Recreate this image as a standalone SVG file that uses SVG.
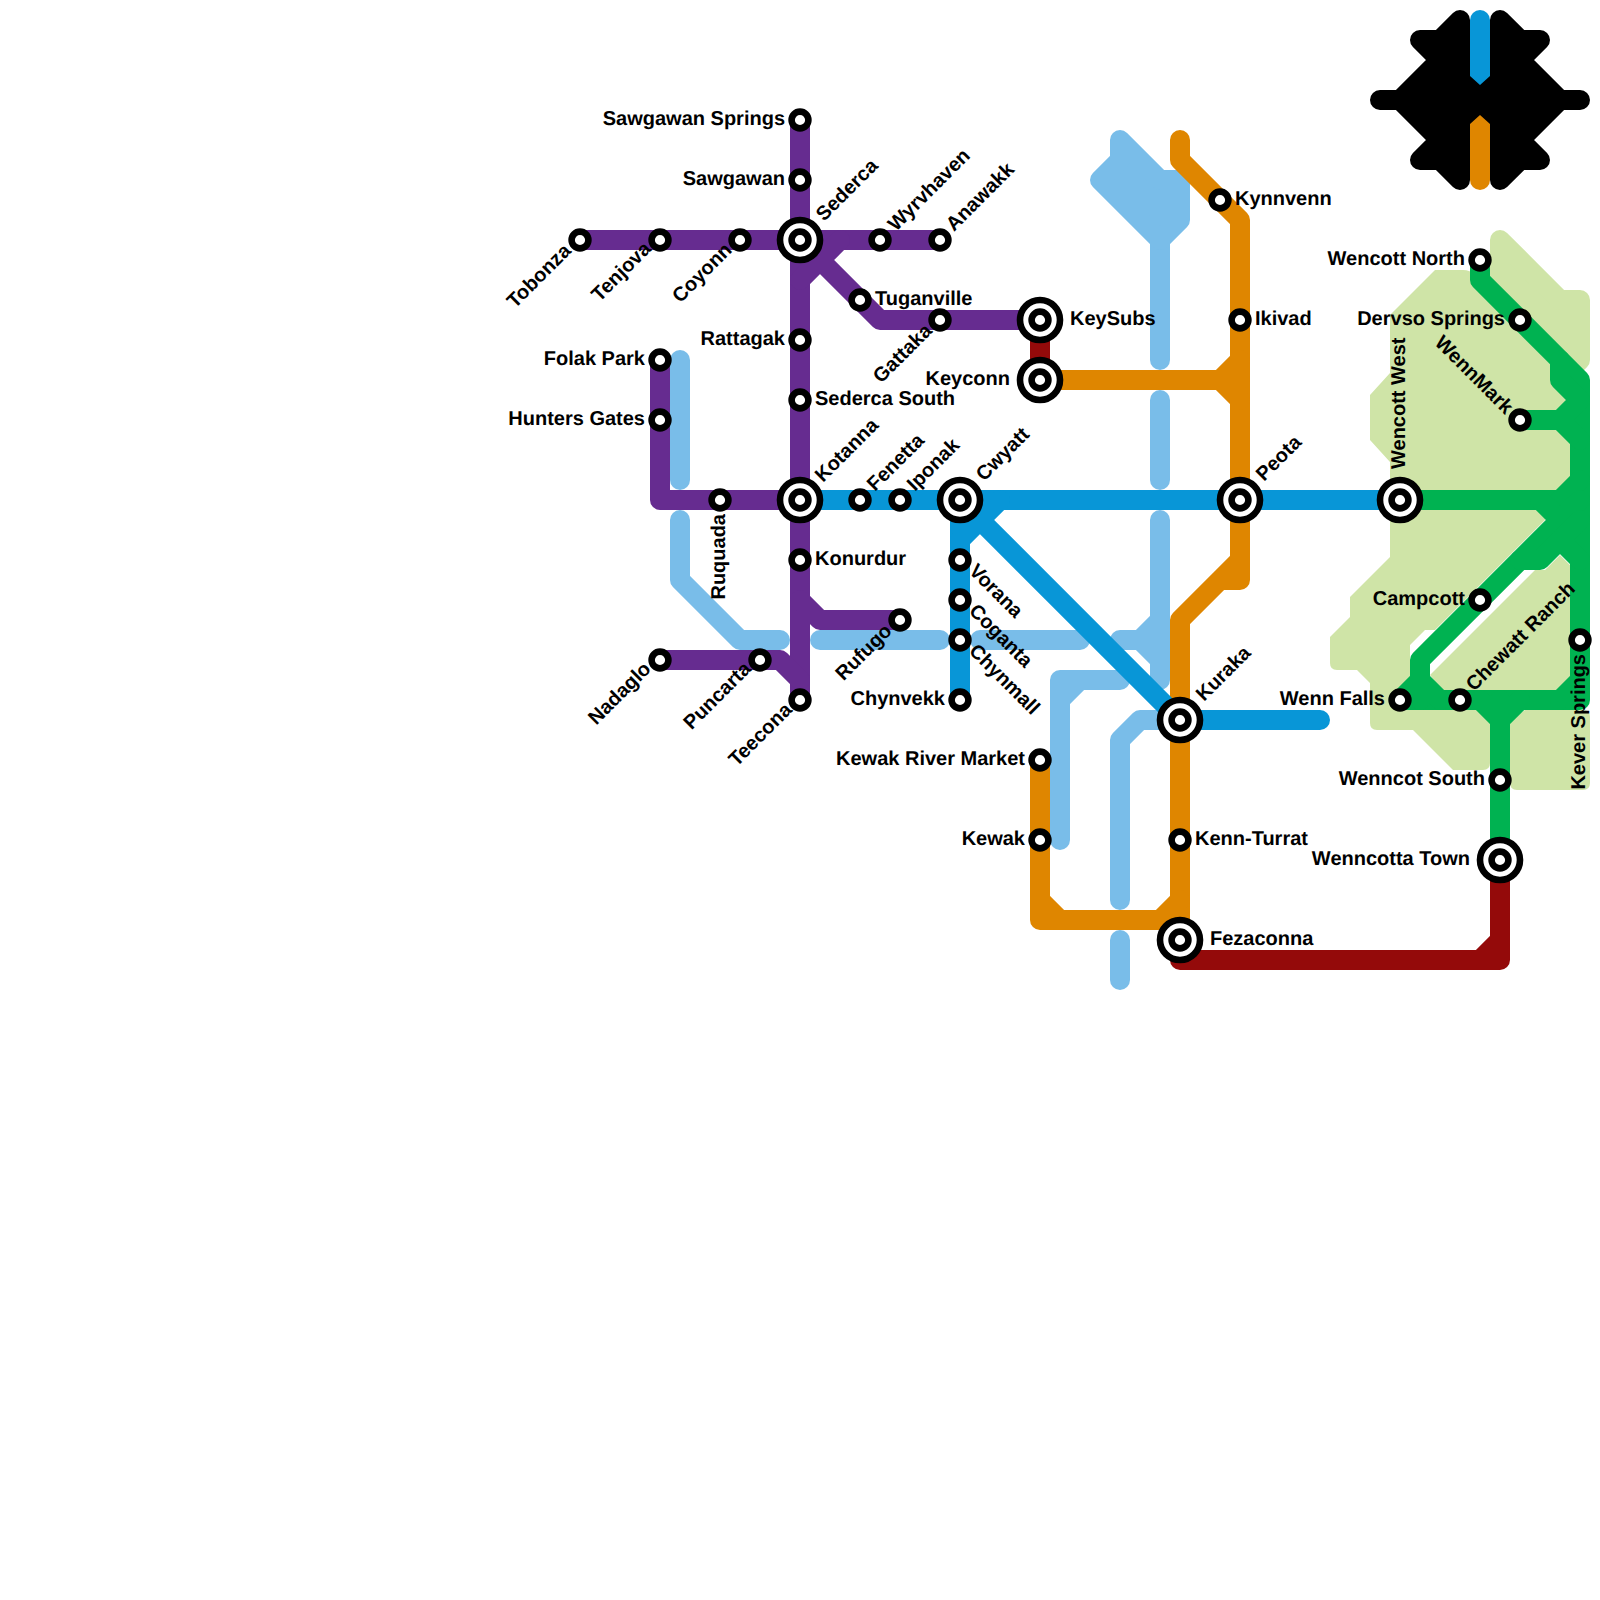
<svg xmlns="http://www.w3.org/2000/svg" width="1600" height="1600" viewBox="0 0 1600 1600">
<style>
.l{fill:none;stroke-width:20;stroke-linecap:round;stroke-linejoin:round}
.pu{stroke:#662c90}.or{stroke:#df8600}.bl{stroke:#0896d7}.lb{stroke:#79bde9}.gr{stroke:#00b251}.re{stroke:#940a0a}.bk{stroke:#000;fill:#000}
.pale{fill:#cfe4a7}
.s circle{fill:#fff;stroke:#000;stroke-width:6.6}
text{font-family:"Liberation Sans",Arial,sans-serif;font-weight:700;font-size:20px;fill:#000;text-rendering:geometricPrecision}
.e{text-anchor:end}
</style>
<rect width="1600" height="1600" fill="#fff"/>
<g id="areas">
<path class="pale" d="M1435,270L1463,270Q1470,270 1475,275L1560,360L1575,400L1575,490L1550,515L1435,630L1425,630L1410,645L1410,690L1490,700L1490,763Q1490,770 1483,770L1453,770L1413,730L1377,730Q1370,730 1370,723L1370,683L1357,670L1337,670Q1330,670 1330,663L1330,637L1350,617L1350,597L1390,557L1390,462L1370,440L1370,395L1390,373L1390,315Z"/>
<path class="pale" stroke="#cfe4a7" stroke-width="20" stroke-linejoin="round" d="M1500,240L1560,300L1580,300L1580,360L1570,370L1500,300Z"/>
<path class="pale" d="M1430,675L1535,570L1545,570L1560,555L1570,565L1570,680L1555,695L1445,695Z"/>
<path class="pale" d="M1510,720L1525,710L1583,710Q1590,710 1590,717L1590,783Q1590,790 1583,790L1517,790Q1510,790 1510,783Z"/>
</g>
<g id="connectors">
<g class="l lb">
<path d="M680,360V480"/>
<path d="M680,520V580L740,640H780"/>
<path d="M820,640H940"/>
<path d="M980,640H1080"/>
<path d="M1120,640H1160M1160,520V680M1140,640L1160,620M1140,640L1160,660"/>
<path d="M1060,840V680H1120M1060,700L1080,680"/>
<path d="M1120,900V740L1140,720H1180"/>
<path d="M1120,940V980"/>
<path d="M1160,400V480"/>
<path d="M1160,360V240"/>
<path d="M1120,140L1160,180H1180V220L1160,240L1100,180L1120,160Z" fill="#79bde9"/>
</g>
<g class="l pu">
<path d="M800,120V700"/>
<path d="M580,240H940"/>
<path d="M840,240L800,280M820,260L880,320H1040"/>
<path d="M660,360V500H800"/>
<path d="M800,600L820,620H900"/>
<path d="M660,660H780L800,680"/>
</g>
<g class="l re">
<path d="M1040,320V380"/>
<path d="M1180,920V960H1500V860M1480,960L1500,940"/>
</g>
<g class="l or">
<path d="M1180,140V160L1240,220V580H1220M1240,560L1180,620V920"/>
<path d="M1040,380H1240M1220,380L1240,360M1220,380L1240,400"/>
<path d="M1040,760V920H1180M1040,900L1060,920M1160,920L1180,900"/>
</g>
<g class="l bl">
<path d="M800,500H1400"/>
<path d="M960,500V700"/>
<path d="M960,500L1180,720H1320"/>
<path d="M960,540L1000,500"/>
</g>
<g class="l gr">
<path d="M1400,500H1580"/>
<path d="M1480,260V280L1580,380V700H1400"/>
<path d="M1560,360V380L1580,400M1520,420H1560L1580,440M1560,420L1580,400M1560,500L1580,480"/>
<path d="M1540,500L1560,520M1580,500L1420,660V700M1400,700L1420,680L1440,700"/>
<path d="M1520,560H1540L1580,520M1560,540L1580,560"/>
<path d="M1560,700L1580,680"/>
<path d="M1500,860V700M1480,700L1500,720L1520,700"/>
</g>
<g id="terminus">
<path class="l bl" d="M1480,20V90"/>
<path class="l or" d="M1480,180V110"/>
<path class="l bk" d="M1460,20L1440,40H1420L1440,60L1400,100H1380H1400L1440,140L1420,160H1440L1460,180Z"/>
<path class="l bk" d="M1500,20L1520,40H1540L1520,60L1560,100H1580H1560L1520,140L1540,160H1520L1500,180Z"/>
<path fill="#000" d="M1470,76L1480,85L1490,76V124L1480,115L1470,124Z"/>
</g>
</g>
<g id="stations" class="s">
<g id="n-sawgawan-springs"><circle cx="800" cy="120" r="8.4"/></g>
<g id="n-sawgawan"><circle cx="800" cy="180" r="8.4"/></g>
<g id="n-sederca"><circle cx="800" cy="240" r="20"/><circle cx="800" cy="240" r="8.4"/></g>
<g id="n-tobonza"><circle cx="580" cy="240" r="8.4"/></g>
<g id="n-tenjova"><circle cx="660" cy="240" r="8.4"/></g>
<g id="n-coyonn"><circle cx="740" cy="240" r="8.4"/></g>
<g id="n-wyrvhaven"><circle cx="880" cy="240" r="8.4"/></g>
<g id="n-anawakk"><circle cx="940" cy="240" r="8.4"/></g>
<g id="n-tuganville"><circle cx="860" cy="300" r="8.4"/></g>
<g id="n-gattaka"><circle cx="940" cy="320" r="8.4"/></g>
<g id="n-keysubs"><circle cx="1040" cy="320" r="20"/><circle cx="1040" cy="320" r="8.4"/></g>
<g id="n-keyconn"><circle cx="1040" cy="380" r="20"/><circle cx="1040" cy="380" r="8.4"/></g>
<g id="n-rattagak"><circle cx="800" cy="340" r="8.4"/></g>
<g id="n-sederca-south"><circle cx="800" cy="400" r="8.4"/></g>
<g id="n-folak-park"><circle cx="660" cy="360" r="8.4"/></g>
<g id="n-hunters-gates"><circle cx="660" cy="420" r="8.4"/></g>
<g id="n-ruquada"><circle cx="720" cy="500" r="8.4"/></g>
<g id="n-kotanna"><circle cx="800" cy="500" r="20"/><circle cx="800" cy="500" r="8.4"/></g>
<g id="n-fenetta"><circle cx="860" cy="500" r="8.4"/></g>
<g id="n-iponak"><circle cx="900" cy="500" r="8.4"/></g>
<g id="n-cwyatt"><circle cx="960" cy="500" r="20"/><circle cx="960" cy="500" r="8.4"/></g>
<g id="n-konurdur"><circle cx="800" cy="560" r="8.4"/></g>
<g id="n-rufugo"><circle cx="900" cy="620" r="8.4"/></g>
<g id="n-nadaglo"><circle cx="660" cy="660" r="8.4"/></g>
<g id="n-puncarta"><circle cx="760" cy="660" r="8.4"/></g>
<g id="n-teecona"><circle cx="800" cy="700" r="8.4"/></g>
<g id="n-vorana"><circle cx="960" cy="560" r="8.4"/></g>
<g id="n-coganta"><circle cx="960" cy="600" r="8.4"/></g>
<g id="n-chynmall"><circle cx="960" cy="640" r="8.4"/></g>
<g id="n-chynvekk"><circle cx="960" cy="700" r="8.4"/></g>
<g id="n-kewak-river-market"><circle cx="1040" cy="760" r="8.4"/></g>
<g id="n-kewak"><circle cx="1040" cy="840" r="8.4"/></g>
<g id="n-kenn-turrat"><circle cx="1180" cy="840" r="8.4"/></g>
<g id="n-kuraka"><circle cx="1180" cy="720" r="20"/><circle cx="1180" cy="720" r="8.4"/></g>
<g id="n-fezaconna"><circle cx="1180" cy="940" r="20"/><circle cx="1180" cy="940" r="8.4"/></g>
<g id="n-kynnvenn"><circle cx="1220" cy="200" r="8.4"/></g>
<g id="n-ikivad"><circle cx="1240" cy="320" r="8.4"/></g>
<g id="n-peota"><circle cx="1240" cy="500" r="20"/><circle cx="1240" cy="500" r="8.4"/></g>
<g id="n-wencott-west"><circle cx="1400" cy="500" r="20"/><circle cx="1400" cy="500" r="8.4"/></g>
<g id="n-wencott-north"><circle cx="1480" cy="260" r="8.4"/></g>
<g id="n-dervso-springs"><circle cx="1520" cy="320" r="8.4"/></g>
<g id="n-wennmark"><circle cx="1520" cy="420" r="8.4"/></g>
<g id="n-campcott"><circle cx="1480" cy="600" r="8.4"/></g>
<g id="n-kever-springs"><circle cx="1580" cy="640" r="8.4"/></g>
<g id="n-wenn-falls"><circle cx="1400" cy="700" r="8.4"/></g>
<g id="n-chewatt-ranch"><circle cx="1460" cy="700" r="8.4"/></g>
<g id="n-wenncot-south"><circle cx="1500" cy="780" r="8.4"/></g>
<g id="n-wenncotta-town"><circle cx="1500" cy="860" r="20"/><circle cx="1500" cy="860" r="8.4"/></g>
</g>
<g id="labels">
<text class="e" x="785" y="125">Sawgawan Springs</text>
<text class="e" x="785" y="185">Sawgawan</text>
<text class="e" x="785" y="345">Rattagak</text>
<text x="815" y="405">Sederca South</text>
<text x="815" y="565">Konurdur</text>
<text x="875" y="305">Tuganville</text>
<text x="1070" y="325">KeySubs</text>
<text class="e" x="1010" y="385">Keyconn</text>
<text x="1235" y="205">Kynnvenn</text>
<text x="1255" y="325">Ikivad</text>
<text class="e" x="645" y="365">Folak Park</text>
<text class="e" x="645" y="425">Hunters Gates</text>
<text class="e" x="945" y="705">Chynvekk</text>
<text class="e" x="1025" y="765">Kewak River Market</text>
<text class="e" x="1025" y="845">Kewak</text>
<text x="1195" y="845">Kenn-Turrat</text>
<text x="1210" y="945">Fezaconna</text>
<text class="e" x="1465" y="265">Wencott North</text>
<text class="e" x="1505" y="325">Dervso Springs</text>
<text class="e" x="1465" y="605">Campcott</text>
<text class="e" x="1385" y="705">Wenn Falls</text>
<text class="e" x="1485" y="785">Wenncot South</text>
<text class="e" x="1470" y="865">Wenncotta Town</text>
<text x="824" y="222" transform="rotate(-45 824 222)">Sederca</text>
<text x="896" y="232" transform="rotate(-45 896 232)">Wyrvhaven</text>
<text x="954" y="232" transform="rotate(-45 954 232)">Anawakk</text>
<text x="823" y="483" transform="rotate(-45 823 483)">Kotanna</text>
<text x="875" y="492" transform="rotate(-45 875 492)">Fenetta</text>
<text x="915" y="492" transform="rotate(-45 915 492)">Iponak</text>
<text x="984" y="482" transform="rotate(-45 984 482)">Cwyatt</text>
<text x="1264" y="482" transform="rotate(-45 1264 482)">Peota</text>
<text x="1204" y="702" transform="rotate(-45 1204 702)">Kuraka</text>
<text x="1474" y="692" transform="rotate(-45 1474 692)">Chewatt Ranch</text>
<text class="e" x="572" y="252" transform="rotate(-45 572 252)">Tobonza</text>
<text class="e" x="652" y="250" transform="rotate(-45 652 250)">Tenjova</text>
<text class="e" x="733" y="251" transform="rotate(-45 733 251)">Coyonn</text>
<text class="e" x="933" y="332" transform="rotate(-45 933 332)">Gattaka</text>
<text class="e" x="893" y="632" transform="rotate(-45 893 632)">Rufugo</text>
<text class="e" x="652" y="670" transform="rotate(-45 652 670)">Nadaglo</text>
<text class="e" x="752" y="670" transform="rotate(-45 752 670)">Puncarta</text>
<text class="e" x="793" y="711" transform="rotate(-45 793 711)">Teecona</text>
<text x="968" y="572" transform="rotate(45 968 572)">Vorana</text>
<text x="968" y="612" transform="rotate(45 968 612)">Coganta</text>
<text x="968" y="652" transform="rotate(45 968 652)">Chynmall</text>
<text class="e" x="1505" y="415" transform="rotate(45 1505 415)">WennMark</text>
<text class="e" x="725" y="514" transform="rotate(-90 725 514)">Ruquada</text>
<text x="1405" y="469" transform="rotate(-90 1405 469)">Wencott West</text>
<text class="e" x="1585" y="654" transform="rotate(-90 1585 654)">Kever Springs</text>
</g>
</svg>
